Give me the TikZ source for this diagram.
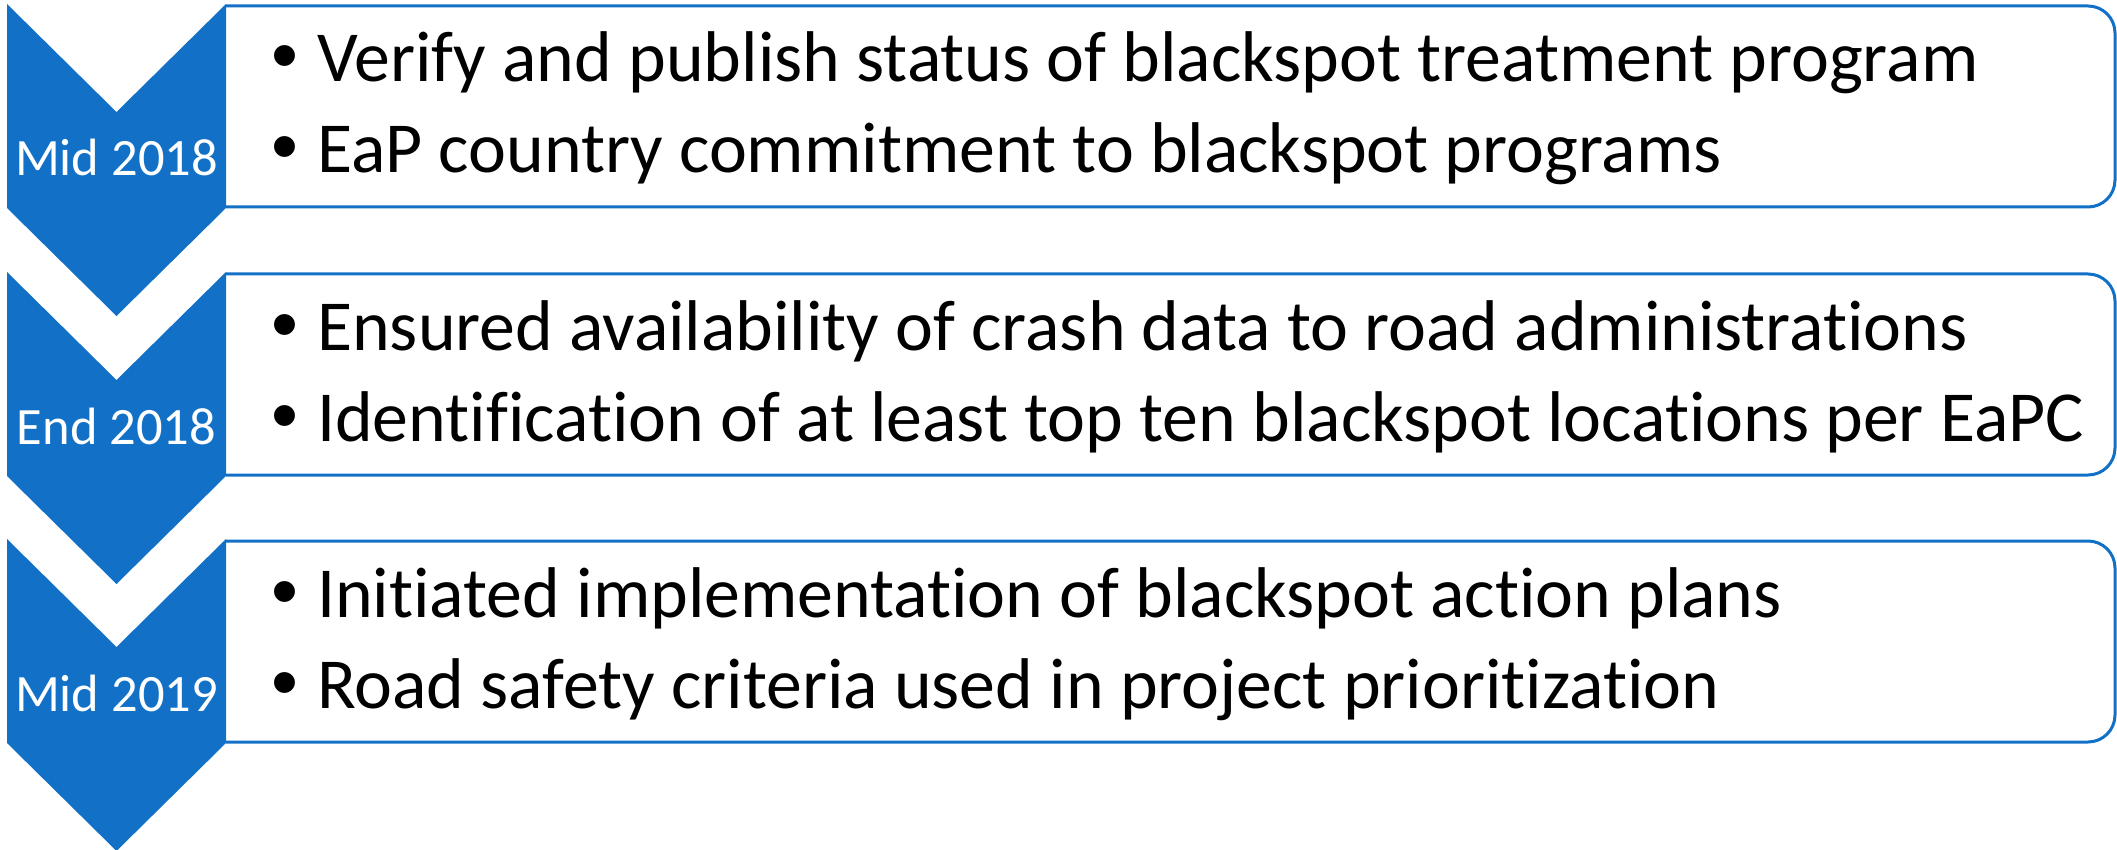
\documentclass[tikz,border=0pt]{standalone}
\usepackage{fontspec}
\setmainfont{Carlito}[Ligatures=CommonOff]
\newfontfamily\bulletfont{Liberation Sans}
\definecolor{chevblue}{RGB}{18,113,198}
\tikzset{
  chev/.style={fill=chevblue, draw=none},
  itembox/.style={draw=chevblue, line width=3pt, fill=white, rounded corners=27pt},
  datelabel/.style={text=white, font=\fontsize{52.5}{60}\selectfont, inner sep=0pt, anchor=base},
  itemtext/.style={text=black, font=\fontsize{71.8}{90}\selectfont, inner sep=0pt, anchor=base west},
  bullettext/.style={text=black, font=\bulletfont\fontsize{77}{90}\selectfont, inner sep=0pt, anchor=base west},
}
\newcommand{\rowstage}[5]{%
  % #1 top, #2 name, #3 date, #4 line1, #5 line2
  \draw[itembox] (226,#1+2) -- (2115,#1+2) -- (2115,#1+203) -- (226,#1+203);
  \fill[chev] (7,#1) -- (116.5,#1+108) -- (226,#1) -- (226,#1+204) -- (116.5,#1+312) -- (7,#1+204) -- cycle;
  \node[datelabel] (#2date) at (116.5,#1+172) {#3};
  \node[bullettext] (#2b1) at (271,#1+78) {•};
  \node[itemtext] (#2t1) at (317,#1+78) {#4};
  \node[bullettext] (#2b2) at (271,#1+169) {•};
  \node[itemtext] (#2t2) at (317,#1+169) {#5};
}
\begin{document}
\begin{tikzpicture}[x=1pt,y=-1pt]
\useasboundingbox (0,0) rectangle (2117,850);
\rowstage{4}{ra}{Mid 2018}{Verify and publish status of blackspot treatment program}{EaP country commitment to blackspot programs}
\rowstage{272}{rb}{End 2018}{Ensured availability of crash data to road administrations}{Identification of at least top ten blackspot locations per EaPC}
\rowstage{539}{rc}{Mid 2019}{Initiated implementation of blackspot action plans}{Road safety criteria used in project prioritization}
\end{tikzpicture}
\end{document}
